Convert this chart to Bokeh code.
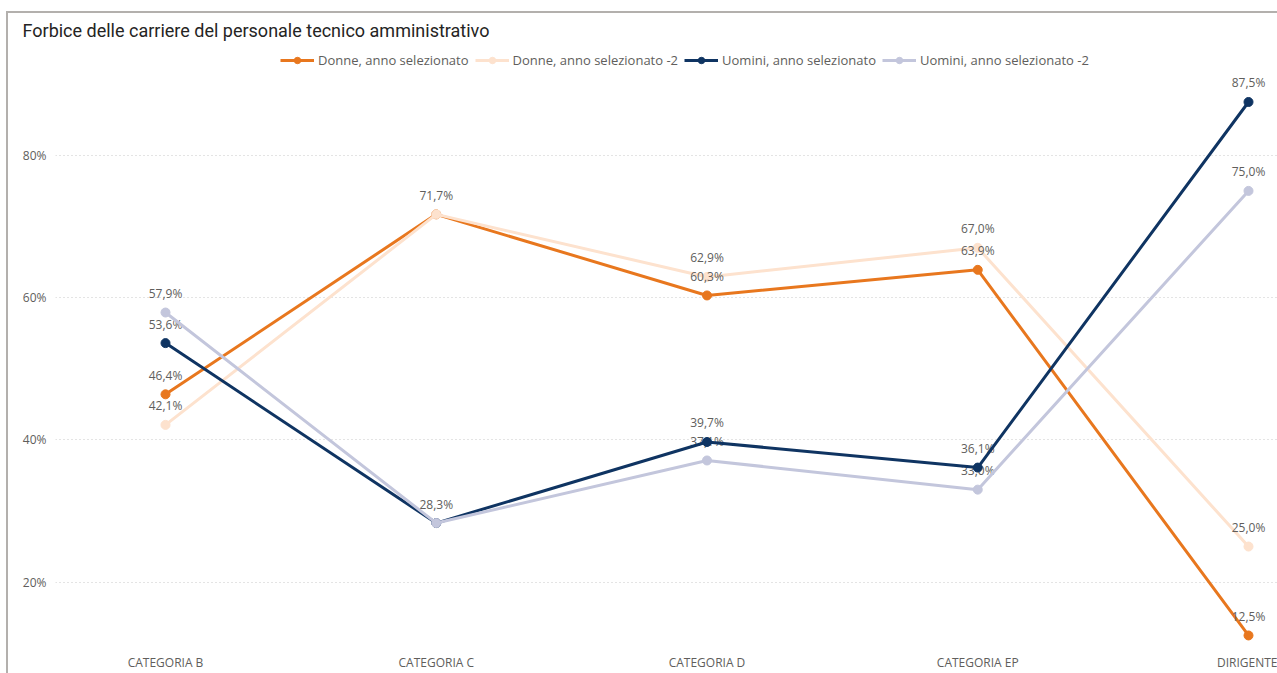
from bokeh.plotting import figure
from bokeh.models import Range1d, FixedTicker, Legend, LegendItem, ColumnDataSource
from bokeh.core.properties import value
from bokeh.embed import file_html
from bokeh.resources import INLINE

# ---- data ----
categories = ["CATEGORIA B", "CATEGORIA C", "CATEGORIA D", "CATEGORIA EP", "DIRIGENTE"]
donne_sel = [46.4, 71.7, 60.3, 63.9, 12.5]
donne_prev = [42.1, 71.7, 62.9, 67.0, 25.0]
uomini_sel = [53.6, 28.3, 39.7, 36.1, 87.5]
uomini_prev = [57.9, 28.3, 37.1, 33.0, 75.0]
series_names = ["Donne, anno selezionato", "Donne, anno selezionato -2",
                "Uomini, anno selezionato", "Uomini, anno selezionato -2"]
y_ticks = [20, 40, 60, 80]
title_text = "Forbice delle carriere del personale tecnico amministrativo"

# ---- styles ----
series_values = [donne_sel, donne_prev, uomini_sel, uomini_prev]
colors = ["#E8771E", "#FDE2CE", "#0F3462", "#C3C6DC"]
FONT = "Open Sans"
TEXT_GREY = "#605E5C"
BORDER = "#B3B0AD"

xs = list(range(len(categories)))

p = figure(width=1277, height=673,
           x_range=Range1d(-0.4063, 4.1071), y_range=Range1d(11.65, 95.02),
           output_backend="svg", toolbar_location=None,
           min_border_left=55, min_border_right=0, min_border_top=48, min_border_bottom=31)

# visual border (top and left edges; the rest is cropped) drawn behind a transparent canvas
p.border_fill_color = None
p.background_fill_color = None
p.styles = {
    "background-color": "white",
    "background-image": f"linear-gradient({BORDER}, {BORDER}), linear-gradient({BORDER}, {BORDER})",
    "background-position": "6px 11px, 6px 11px",
    "background-size": "100% 2px, 2px 100%",
    "background-repeat": "no-repeat",
}

p.title.text = title_text
p.title.align = "left"
p.title.offset = -33
p.title.standoff = 15
p.title.text_font = "Roboto"
p.title.text_font_size = "18px"
p.title.text_font_style = "normal"
p.title.text_color = "#252423"

p.outline_line_color = None
p.xgrid.grid_line_color = None
p.ygrid.grid_line_color = "#C8C8C8"
p.ygrid.grid_line_dash = "1 3"
p.ygrid.grid_line_width = 1

p.xaxis.ticker = FixedTicker(ticks=xs)
p.xaxis.major_label_overrides = {i: c for i, c in zip(xs, categories)}
p.yaxis.ticker = FixedTicker(ticks=y_ticks)
p.yaxis.major_label_overrides = {t: f"{t}%" for t in y_ticks}
for ax in (p.xaxis[0], p.yaxis[0]):
    ax.axis_line_color = None
    ax.major_tick_line_color = None
    ax.minor_tick_line_color = None
    ax.major_label_text_font = FONT
    ax.major_label_text_font_size = "12px"
    ax.major_label_text_color = TEXT_GREY
p.xaxis.major_label_standoff = 6
p.yaxis.major_label_standoff = 3

# data labels (skip duplicates at same category, as in the original)
lx, ly, lt = [], [], []
for vals in series_values:
    for i, v in enumerate(vals):
        if any(abs(v - yy) < 1e-9 and xx == i for xx, yy in zip(lx, ly)):
            continue
        lx.append(i)
        ly.append(v)
        lt.append(f"{v:.1f}".replace(".", ",") + "%")
lab_src = ColumnDataSource(dict(x=lx, y=ly, t=lt))


def draw_labels():
    p.text(x="x", y="y", text="t", source=lab_src, y_offset=-19,
           text_align="center", text_baseline="middle",
           text_font=value(FONT), text_font_size="12px", text_color=TEXT_GREY)


items = []
for k, (name, vals, col) in enumerate(zip(series_names, series_values, colors)):
    if k == 2:
        draw_labels()
    src = ColumnDataSource(dict(x=xs, y=vals))
    lr = p.line("x", "y", source=src, line_color=col, line_width=3)
    sr = p.scatter("x", "y", source=src, size=9, fill_color=col, line_color=col, marker="circle")
    items.append(LegendItem(label=name, renderers=[lr, sr]))

legend = Legend(items=items, orientation="horizontal", location=(225, 572),
                label_text_font=FONT, label_text_font_size="13px", label_text_color=TEXT_GREY,
                glyph_width=34, glyph_height=16, label_height=16, label_standoff=4,
                spacing=6, padding=0, margin=0,
                background_fill_alpha=0, border_line_alpha=0)
p.add_layout(legend)

open("out.html", "w").write(file_html(p, INLINE))
